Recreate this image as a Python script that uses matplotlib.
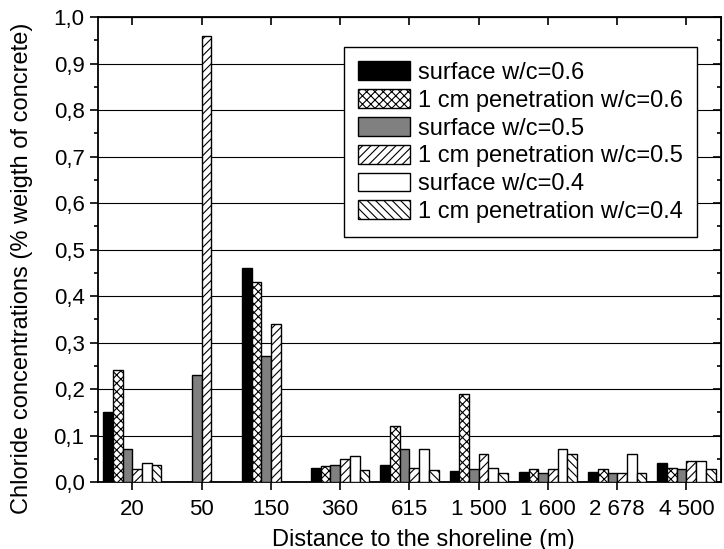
import numpy as np
import matplotlib.pyplot as plt
from matplotlib.ticker import MultipleLocator, FuncFormatter

plt.rcParams['font.family'] = ['Liberation Sans', 'DejaVu Sans']
plt.rcParams['hatch.linewidth'] = 0.8

distances = ['20', '50', '150', '360', '615', '1 500', '1 600', '2 678', '4 500']

surface_06 = [0.15, 0, 0.46, 0.031, 0.036, 0.024, 0.022, 0.022, 0.041]
penetr_06 = [0.24, 0, 0.43, 0.034, 0.12, 0.19, 0.029, 0.027, 0.031]
surface_05 = [0.07, 0.23, 0.27, 0.037, 0.07, 0.027, 0.02, 0.02, 0.029]
penetr_05 = [0.027, 0.96, 0.34, 0.05, 0.03, 0.06, 0.029, 0.02, 0.046]
surface_04 = [0.04, 0, 0, 0.057, 0.07, 0.03, 0.07, 0.06, 0.046]
penetr_04 = [0.037, 0, 0, 0.026, 0.026, 0.02, 0.06, 0.02, 0.028]

series = [
    ('surface w/c=0.6', surface_06, 'black', ''),
    ('1 cm penetration w/c=0.6', penetr_06, 'white', 'xxxx'),
    ('surface w/c=0.5', surface_05, '#808080', ''),
    ('1 cm penetration w/c=0.5', penetr_05, 'white', '////'),
    ('surface w/c=0.4', surface_04, 'white', ''),
    ('1 cm penetration w/c=0.4', penetr_04, 'white', '\\\\\\\\'),
]

fig = plt.figure(figsize=(7.24, 5.49), dpi=100)
ax = fig.add_axes([0.135, 0.122, 0.861, 0.847])

x = np.arange(len(distances))
w = 0.14
for i, (label, vals, color, hatch) in enumerate(series):
    ax.bar(x + (i - 2.5) * w, vals, w, color=color, edgecolor='black',
           hatch=hatch, linewidth=1, label=label, zorder=3)

ax.set_xlim(-0.5, 8.5)
ax.set_ylim(0, 1.0)
ax.set_xticks(x)
ax.set_xticklabels(distances)
ax.yaxis.set_major_locator(MultipleLocator(0.1))
ax.yaxis.set_minor_locator(MultipleLocator(0.05))
ax.yaxis.set_major_formatter(FuncFormatter(lambda v, p: ('%.1f' % v).replace('.', ',')))
ax.grid(axis='y', color='black', linewidth=0.8, zorder=0)

ax.tick_params(axis='both', which='both', direction='out', labelsize=16, width=1.2)
ax.tick_params(which='major', length=6)
ax.tick_params(which='minor', length=3)
ax.tick_params(axis='x', pad=6)
for sp in ax.spines.values():
    sp.set_linewidth(1.3)

# mirrored ticks on top / right point inward
sec = ax.secondary_xaxis('top')
sec.set_xticks(x)
sec.set_xticklabels([])
sec.tick_params(direction='in', length=6, width=1.2)
secy = ax.secondary_yaxis('right')
secy.yaxis.set_major_locator(MultipleLocator(0.1))
secy.yaxis.set_minor_locator(MultipleLocator(0.05))
secy.set_yticklabels([])
secy.tick_params(direction='in', which='major', length=6, width=1.2)
secy.tick_params(direction='in', which='minor', length=3, width=1.2)

ax.set_xlabel('Distance to the shoreline (m)', fontsize=17)
ax.xaxis.set_label_coords(0.522, -0.1)
ax.set_ylabel('Chloride concentrations (% weigth of concrete)', fontsize=17)
ax.yaxis.set_label_coords(-0.104, 0.46)

leg = ax.legend(loc='upper right', bbox_to_anchor=(0.9615, 0.935), fontsize=17,
                frameon=True, fancybox=False, edgecolor='black', framealpha=1,
                handlelength=2.2, handleheight=0.85, handletextpad=0.35,
                labelspacing=0.22, borderpad=0.6, borderaxespad=0)
leg.get_frame().set_linewidth(1.0)

fig.savefig('out.png', dpi=100)
